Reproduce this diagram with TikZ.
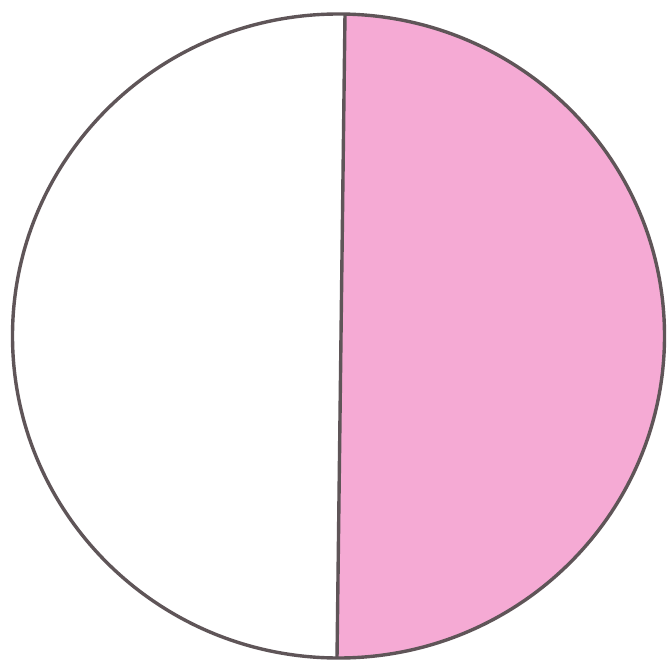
\documentclass[tikz,border=0pt]{standalone}
\definecolor{pinkfill}{RGB}{245,170,212}
\definecolor{edge}{RGB}{95,85,88}
\begin{document}
\begin{tikzpicture}[x=1pt,y=-1pt,
  outline/.style={draw=edge,line width=3.4pt}]
\useasboundingbox (0,0) rectangle (671,663);
\fill[white] (0,0) rectangle (671,663);
\coordinate (c) at (338.5,336);
\coordinate (top) at (345,14);
\coordinate (bot) at (337,658);
\begin{scope}
  \clip (c) ellipse[x radius=326,y radius=322];
  \fill[pinkfill] (345,0) -- (337,663) -- (671,663) -- (671,0) -- cycle;
\end{scope}
\draw[outline] (c) ellipse[x radius=326,y radius=322];
\draw[outline] (top) -- (bot);
\end{tikzpicture}
\end{document}
